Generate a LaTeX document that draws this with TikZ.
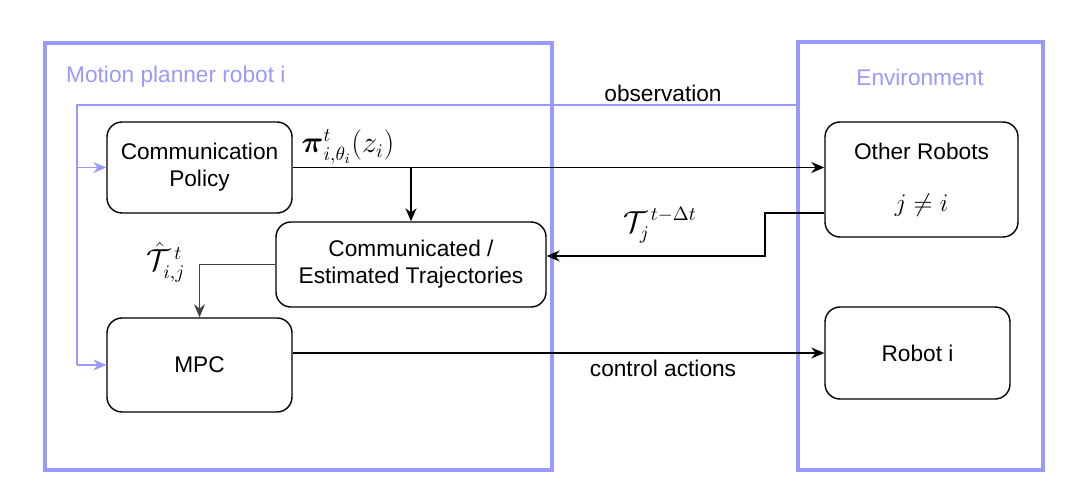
\documentclass[tikz,border=0pt]{standalone}
\usepackage{amsmath}
\usepackage{amssymb}
\usepackage{fontspec}
\setmainfont{Liberation Sans}
\usetikzlibrary{arrows.meta,positioning,calc}
\definecolor{framecol}{HTML}{9999FF}

\begin{document}
\begin{tikzpicture}[
    font=\fontsize{12.9}{15.5}\selectfont,
    block/.style={rectangle, rounded corners=0.3cm, draw=black, fill=white,
                  align=center, line width=0.8pt},
    frame/.style={rectangle, draw=framecol, line width=2.2pt},
    framelabel/.style={text=framecol},
    mathlabel/.style={font=\fontsize{16}{19}\selectfont},
    arrow/.style={-{Stealth[length=2.6mm,width=2.2mm]}, line width=0.8pt},
    obsline/.style={draw=framecol, line width=0.6pt},
    obsarrow/.style={-{Stealth[length=2.6mm,width=2.2mm]}, draw=framecol, line width=0.6pt}
]
    \useasboundingbox (0,0) rectangle (21.42,-9.64);

    % the two frames
    \node[frame, minimum width=10.14cm, minimum height=8.54cm] (planner) at (5.97,-5.13) {};
    \node[frame, minimum width=4.9cm, minimum height=8.56cm] (env) at (18.41,-5.12) {};
    \node[framelabel, anchor=west] (plannerlbl) at (1.2,-1.54) {Motion planner robot i};
    \node[framelabel] (envlbl) at (18.4,-1.54) {Environment};

    % blocks
    \node[block, minimum width=3.7cm, minimum height=1.82cm] (commpol) at (3.99,-3.35) {Communication\\Policy};
    \node[block, minimum width=5.4cm, minimum height=1.7cm] (commest) at (8.22,-5.29) {Communicated /\\Estimated Trajectories};
    \node[block, minimum width=3.7cm, minimum height=1.88cm] (mpc) at (3.99,-7.3) {MPC};
    \node[block, minimum width=3.86cm, minimum height=2.3cm] (other) at (18.43,-3.59) {Other Robots\\[0.5cm]{\Large$j \neq i$}};
    \node[block, minimum width=3.7cm, minimum height=1.84cm] (robot) at (18.35,-7.06) {Robot i};

    % observation feedback
    \coordinate (obs) at (1.54,-2.1);
    \draw[obsline] (env.west |- obs) -- (obs) -- (obs |- mpc.west);
    \draw[obsarrow] (obs |- commpol.west) -- (commpol.west);
    \draw[obsarrow] (obs |- mpc.west) -- (mpc.west);
    \node (obslbl) at (13.26,-1.86) {observation};

    % communication
    \draw[arrow] (commpol.east) -- (other.west |- commpol.east);
    \draw[arrow] (commest.north |- commpol.east) -- (commest.north);
    \node[mathlabel] (pilbl) at (6.96,-2.94) {$\boldsymbol{\pi}^t_{i,\theta_i}(z_i)$};

    \coordinate (tbend) at (15.3,-4.26);
    \draw[arrow] ([yshift=-0.67cm]other.west) -| (tbend) |- ([yshift=0.17cm]commest.east);
    \node[mathlabel] (tlbl) at (13.2,-4.5) {$\mathcal{T}_j^{\,t-\Delta t}$};

    \draw[arrow, black!75] (commest.west) -| (mpc.north);
    \node[mathlabel] (thatlbl) at (3.32,-5.24) {$\hat{\mathcal{T}}_{i,j}^{\,t}$};

    % control
    \draw[arrow] (mpc.east |- robot.west) -- (robot.west);
    \node (ctrllbl) at (13.26,-7.36) {control actions};
\end{tikzpicture}
\end{document}
